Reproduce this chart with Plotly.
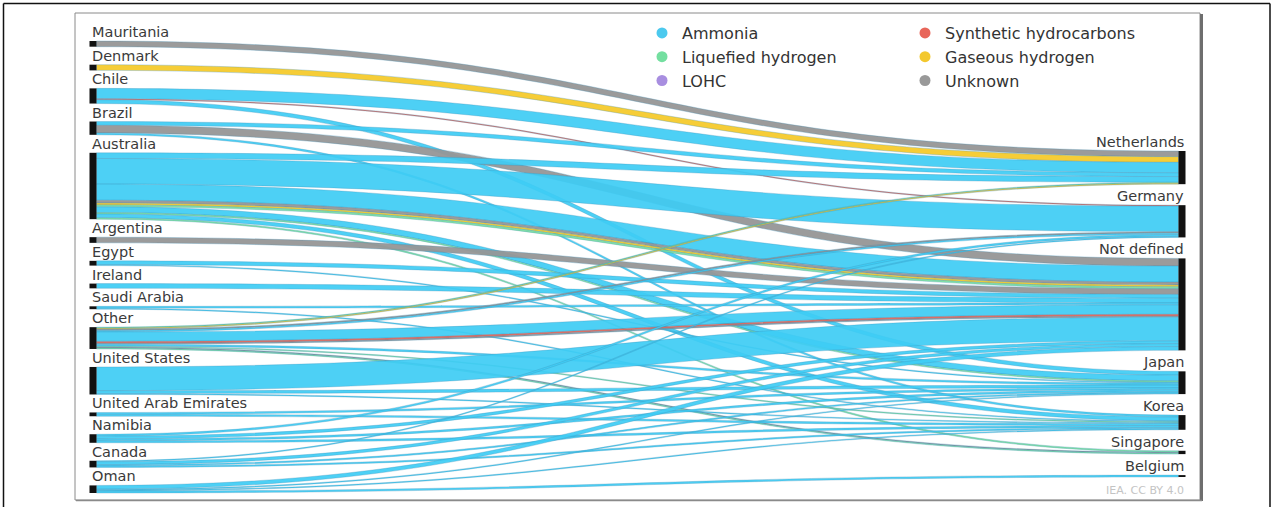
import plotly.graph_objects as go

W, H = 1273, 507

# ---------------- data ----------------
sources = ["Mauritania", "Denmark", "Chile", "Brazil", "Australia", "Argentina", "Egypt",
           "Ireland", "Saudi Arabia", "Other", "United States", "United Arab Emirates",
           "Namibia", "Canada", "Oman"]
destinations = ["Netherlands", "Germany", "Not defined", "Japan", "Korea", "Singapore", "Belgium"]
carriers = ["Ammonia", "Synthetic hydrocarbons", "Liquefied hydrogen",
            "Gaseous hydrogen", "LOHC", "Unknown"]

flow_source = [
    "Mauritania", "Denmark",
    "Chile", "Chile", "Chile",
    "Brazil", "Brazil", "Brazil",
    "Australia", "Australia", "Australia", "Australia", "Australia", "Australia",
    "Australia", "Australia", "Australia", "Australia",
    "Argentina",
    "Egypt", "Egypt",
    "Ireland",
    "Saudi Arabia", "Saudi Arabia",
    "Other", "Other", "Other", "Other", "Other", "Other", "Other", "Other", "Other", "Other", "Other",
    "United States", "United States", "United States",
    "United Arab Emirates", "United Arab Emirates",
    "Namibia", "Namibia", "Namibia", "Namibia",
    "Canada", "Canada", "Canada", "Canada",
    "Oman", "Oman", "Oman", "Oman",
]
flow_target = [
    "Netherlands", "Netherlands",
    "Netherlands", "Germany", "Japan",
    "Netherlands", "Not defined", "Korea",
    "Netherlands", "Germany", "Not defined", "Not defined", "Not defined", "Not defined",
    "Japan", "Japan", "Korea", "Singapore",
    "Not defined",
    "Not defined", "Japan",
    "Not defined",
    "Not defined", "Korea",
    "Netherlands", "Netherlands", "Germany", "Germany", "Not defined", "Not defined", "Not defined",
    "Japan", "Korea", "Singapore", "Singapore",
    "Not defined", "Japan", "Korea",
    "Japan", "Korea",
    "Germany", "Not defined", "Japan", "Korea",
    "Germany", "Not defined", "Japan", "Korea",
    "Not defined", "Japan", "Korea", "Belgium",
]
flow_carrier = [
    "Unknown", "Gaseous hydrogen",
    "Ammonia", "Synthetic hydrocarbons", "Ammonia",
    "Ammonia", "Unknown", "Ammonia",
    "Ammonia", "Ammonia", "Ammonia", "Unknown", "Gaseous hydrogen", "Liquefied hydrogen",
    "Ammonia", "Liquefied hydrogen", "Ammonia", "Liquefied hydrogen",
    "Unknown",
    "Ammonia", "Ammonia",
    "Ammonia",
    "Ammonia", "Ammonia",
    "Liquefied hydrogen", "Gaseous hydrogen", "Unknown", "Ammonia", "Ammonia",
    "Synthetic hydrocarbons", "Unknown", "Ammonia", "Liquefied hydrogen", "Unknown", "Liquefied hydrogen",
    "Ammonia", "Ammonia", "Ammonia",
    "Ammonia", "Ammonia",
    "Ammonia", "Ammonia", "Ammonia", "Ammonia",
    "Ammonia", "Ammonia", "Ammonia", "Ammonia",
    "Ammonia", "Ammonia", "Ammonia", "Ammonia",
]
flow_value = [
    6, 6,
    11, 1, 4,
    4, 8, 2,
    6, 27, 17, 3, 2, 2, 6, 1.5, 4, 1.5,
    6,
    4, 1,
    5,
    2, 1,
    1, 1, 1.5, 1.5, 10, 2, 1, 2, 1, 1, 1,
    25, 3, 1,
    2, 2,
    2, 3, 2, 2,
    1, 3, 1.5, 1.5,
    4, 1, 1, 2,
]

# ---------------- styles ----------------
carrier_link_colors = {
    "Ammonia": "rgba(62,204,244,0.92)",
    "Synthetic hydrocarbons": "rgba(228,102,88,0.95)",
    "Liquefied hydrogen": "rgba(120,224,160,0.92)",
    "Gaseous hydrogen": "rgba(246,202,44,0.95)",
    "LOHC": "rgba(168,142,224,0.92)",
    "Unknown": "rgba(150,150,150,0.95)",
}
carrier_dot_colors = {
    "Ammonia": "#4cc9ee",
    "Synthetic hydrocarbons": "#e8665a",
    "Liquefied hydrogen": "#74dfa0",
    "Gaseous hydrogen": "#f3c82e",
    "LOHC": "#a88ee0",
    "Unknown": "#999999",
}


def px(xp):
    return xp / W


def py(yp):
    return 1 - yp / H


top_px, bottom_px = 41, 493
left_cx, right_cx = 93, 1182
thick = 7
pad_left = 18
pad_right = 21
right_top_px = 151
FONT = "DejaVu Sans"

# ---------------- node geometry derived from values ----------------
src_tot = [sum(v for s, v in zip(flow_source, flow_value) if s == n) for n in sources]
dst_tot = [sum(v for t, v in zip(flow_target, flow_value) if t == n) for n in destinations]
Hd = bottom_px - top_px
ky = (Hd - (len(sources) - 1) * pad_left) / sum(src_tot)

node_x, node_y, node_top = [], [], []
y = top_px
for v in src_tot:
    h = v * ky
    node_x.append(left_cx / W)
    node_y.append((y + h / 2 - top_px) / Hd)
    node_top.append(y)
    y += h + pad_left
y = right_top_px
for v in dst_tot:
    h = v * ky
    node_x.append(right_cx / W)
    node_y.append((y + h / 2 - top_px) / Hd)
    node_top.append(y)
    y += h + pad_right

all_nodes = sources + destinations
src_idx = [sources.index(s) for s in flow_source]
tgt_idx = [len(sources) + destinations.index(t) for t in flow_target]

fig = go.Figure()
fig.add_trace(go.Sankey(
    arrangement="fixed",
    domain=dict(x=[0, 1], y=[py(bottom_px), py(top_px)]),
    node=dict(
        label=["" for _ in all_nodes],
        customdata=all_nodes,
        hovertemplate="%{customdata}<extra></extra>",
        x=node_x, y=node_y,
        pad=pad_left, thickness=thick,
        color="#111111",
        line=dict(width=0),
    ),
    link=dict(
        source=src_idx, target=tgt_idx, value=flow_value,
        color=[carrier_link_colors[c] for c in flow_carrier],
        line=dict(color="rgba(60,140,180,0.5)", width=0.6),
        customdata=flow_carrier,
        hovertemplate="%{customdata}: %{value}<extra></extra>",
    ),
))

# legend entries (two columns via two legends)
for i, c in enumerate(carriers):
    fig.add_trace(go.Scatter(
        x=[None], y=[None], mode="markers", name=c,
        marker=dict(size=11, color=carrier_dot_colors[c], symbol="circle"),
        legend="legend" if i % 2 == 0 else "legend2",
        hoverinfo="skip",
    ))

# node labels above nodes
annotations = []
for i, name in enumerate(all_nodes):
    left = i < len(sources)
    annotations.append(dict(
        text=name, showarrow=False, xref="paper", yref="paper",
        x=px((left_cx - thick / 2) if left else (right_cx + thick / 2)),
        xanchor="left" if left else "right",
        y=py(node_top[i] + 1), yanchor="bottom",
        font=dict(family=FONT, size=14.5, color="#3a3a3a"),
    ))
annotations.append(dict(
    text="IEA. CC BY 4.0", showarrow=False, xref="paper", yref="paper",
    x=px(right_cx + thick / 2), xanchor="right",
    y=py(490), yanchor="middle",
    font=dict(family=FONT, size=11, color="#c4c4c4"),
))

shapes = [
    # outer frame
    dict(type="line", xref="paper", yref="paper", x0=px(3.5), x1=px(3.5), y0=py(520), y1=py(3.5),
         line=dict(color="#111", width=1.5)),
    dict(type="line", xref="paper", yref="paper", x0=px(3.5), x1=px(1270), y0=py(3.5), y1=py(3.5),
         line=dict(color="#111", width=1.5)),
    dict(type="line", xref="paper", yref="paper", x0=px(1270), x1=px(1270), y0=py(520), y1=py(3.5),
         line=dict(color="#111", width=1.5)),
    # inner frame
    dict(type="rect", xref="paper", yref="paper", x0=px(75), x1=px(1200), y0=py(500), y1=py(13),
         line=dict(color="#8a8a8a", width=1)),
    dict(type="line", xref="paper", yref="paper", x0=px(1201.5), x1=px(1201.5), y0=py(501), y1=py(14),
         line=dict(color="#6e6e6e", width=3)),
    dict(type="line", xref="paper", yref="paper", x0=px(76), x1=px(1202), y0=py(500.5), y1=py(500.5),
         line=dict(color="#8a8a8a", width=1.5)),
]

legend_common = dict(
    orientation="v", xanchor="left", yanchor="top",
    font=dict(family=FONT, size=16, color="#333333"),
    bgcolor="rgba(0,0,0,0)", borderwidth=0, tracegroupgap=0,
)
fig.update_layout(
    width=W, height=H, autosize=False,
    margin=dict(l=0, r=0, t=0, b=0),
    paper_bgcolor="white", plot_bgcolor="white",
    font=dict(family=FONT),
    xaxis=dict(visible=False), yaxis=dict(visible=False),
    showlegend=True,
    legend=dict(x=px(642), y=py(16), **legend_common),
    legend2=dict(x=px(905), y=py(16), **legend_common),
    annotations=annotations,
    shapes=shapes,
)

# remove the browser's default 8px body margin so the figure fills the window
fig.write_html("out.html", config={"displayModeBar": False},
               post_script="document.body.style.margin='0';")
